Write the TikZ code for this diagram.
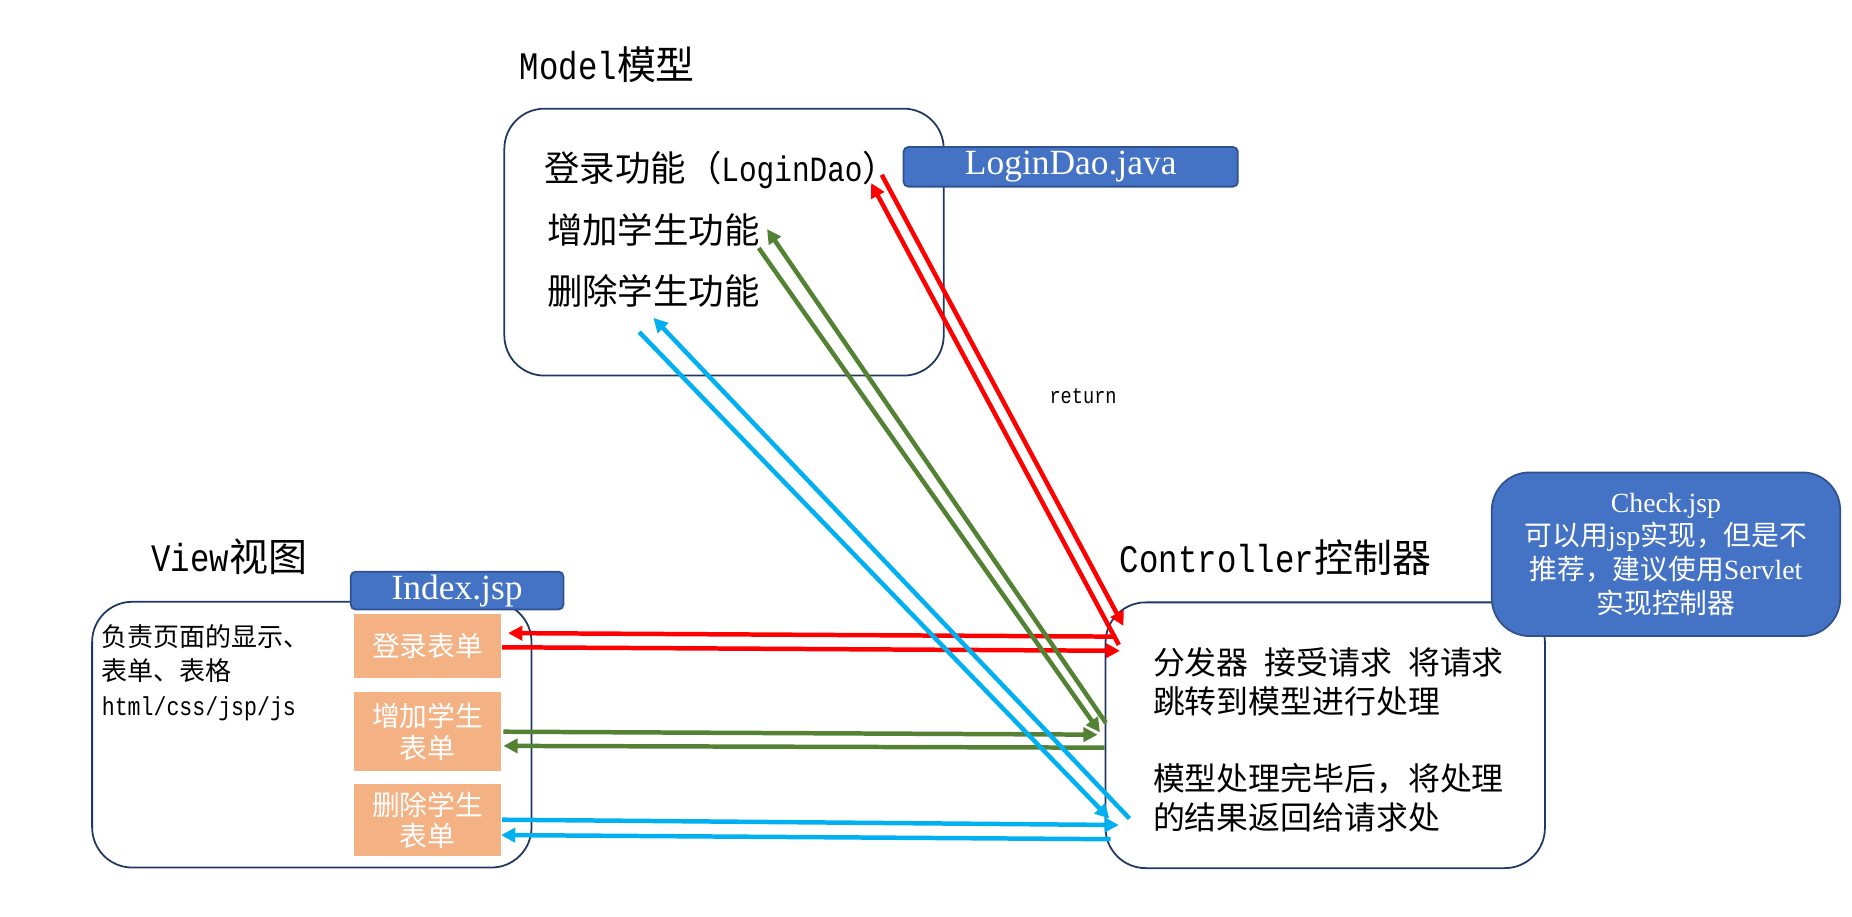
\documentclass[tikz,border=0pt]{standalone}
\usepackage{fontspec}
\setmainfont{Liberation Serif}
\newfontfamily\cjk{Noto Sans CJK SC}
\newfontfamily\mono{Liberation Mono}[FakeStretch=0.83]
\usepackage{tikz}
\usetikzlibrary{arrows.meta}
\usetikzlibrary{calc}
\tikzset{>={Triangle[length=12pt,width=12pt]}}
\definecolor{boxline}{HTML}{1F3864}
\definecolor{tagfill}{HTML}{4472C4}
\definecolor{tagline}{HTML}{2F528F}
\definecolor{formfill}{HTML}{F4B183}
\definecolor{addgreen}{HTML}{548235}
\definecolor{delblue}{HTML}{00B0F0}
\tikzstyle{panel} = [draw=boxline, line width=1.5pt, rounded corners=34pt, inner sep=0pt]
\tikzstyle{tag} = [draw=tagline, fill=tagfill, line width=1.5pt, rounded corners=4pt,
    text=white, inner sep=0pt]
\tikzstyle{form} = [fill=formfill, text=white, align=center, inner sep=0pt,
    minimum width=124pt, font=\cjk\fontsize{23.5}{27}\selectfont]
\tikzstyle{flow} = [->, line width=3.8pt]

\begin{document}
\begin{tikzpicture}[x=1pt,y=-1pt]
\useasboundingbox (0,0) rectangle (1568,776);
    %boxes
    \node[panel, minimum width=372pt, minimum height=226pt] (model) at (613,205) {};
    \node[panel, minimum width=372pt, minimum height=225pt] (view) at (264,622) {};
    \node[panel, minimum width=372pt, minimum height=225pt] (ctrl) at (1122,622.5) {};
    %tags
    \node[tag, minimum width=283pt, minimum height=33.5pt, font=\fontsize{30}{36}\selectfont]
        (daoTag) at (906.5,141.25) {LoginDao.java};
    \node[tag, minimum width=180pt, minimum height=32pt, font=\fontsize{30}{36}\selectfont]
        (indexTag) at (387,500) {Index.jsp};
    \node[tag, rounded corners=32pt, minimum width=295pt, minimum height=138.5pt, align=center,
        font=\cjk\fontsize{23.5}{28.6}\selectfont] (checkNote) at (1410.5,469.25)
        {{\rmfamily Check.jsp}\\可以用{\rmfamily jsp}实现，但是不\\推荐，建议使用{\rmfamily Servlet}\\实现控制器};
    %forms
    \node[form, minimum height=54pt] (loginform) at (362,547) {登录表单};
    \node[form, minimum height=67pt] (addform) at (362,619.5) {增加学生\\表单};
    \node[form, minimum height=61pt] (delform) at (362,694.5) {删除学生\\表单};
    %titles
    \node[anchor=west, inner sep=0pt, font=\cjk\fontsize{33}{40}\selectfont] (modelTitle) at (440,55) {{\mono Model}模型};
    \node[anchor=west, inner sep=0pt, font=\cjk\fontsize{33}{40}\selectfont] (viewTitle) at (128,471.5) {{\mono View}视图};
    \node[anchor=west, inner sep=0pt, font=\cjk\fontsize{33}{40}\selectfont] (ctrlTitle) at (948,472) {{\mono Controller}控制器};
    %labels
    \node[anchor=west, inner sep=0pt, font=\cjk\fontsize{30}{36}\selectfont] (fLogin) at (460.6,144) {登录功能（{\mono LoginDao}）};
    \node[anchor=west, inner sep=0pt, font=\cjk\fontsize{30}{36}\selectfont] (fAdd) at (463,195) {增加学生功能};
    \node[anchor=west, inner sep=0pt, font=\cjk\fontsize{30}{36}\selectfont] (fDel) at (463,246) {删除学生功能};
    \node[anchor=west, inner sep=0pt, align=left, font=\cjk\fontsize{22}{29.25}\selectfont] (viewNote) at (86,569.5)
        {负责页面的显示、\\表单、表格\\{\mono html/css/jsp/js}};
    \node[anchor=west, inner sep=0pt, align=left, font=\cjk\fontsize{27}{33}\selectfont] (ctrlNote) at (976,626.5)
        {分发器\hspace{0.5em}接受请求\hspace{0.5em}将请求\\跳转到模型进行处理\\[32pt]模型处理完毕后，将处理\\的结果返回给请求处};
    \node[inner sep=0pt, font=\mono\fontsize{19}{23}\selectfont] (retLabel) at (917,335) {return};
    %login arrows
    \draw[flow, red] ($(loginform.east)+(1,1)$) -- ($(ctrl.west)+(13,-71.5)$);
    \draw[flow, red] ($(ctrl.west)+(10,-83.5)$) -- ($(loginform.east)+(6,-11)$);
    \draw[flow, red] ($(fLogin.east)+(-14,4)$) -- ($(ctrl.west)+(16,-92.5)$);
    \draw[flow, red] ($(ctrl.west)+(12,-76.5)$) -- ($(fLogin.east)+(-23,11)$);
    %add arrows
    \draw[flow, addgreen] ($(addform.east)+(2,0)$) -- ($(ctrl.west)+(-6,-0.5)$);
    \draw[flow, addgreen] ($(ctrl.west)+(0,10.5)$) -- ($(addform.east)+(2,12)$);
    \draw[flow, addgreen] ($(fAdd.east)+(-1,15)$) -- ($(ctrl.west)+(-4,-2.5)$);
    \draw[flow, addgreen] ($(ctrl.west)+(1,-10.5)$) -- ($(fAdd.east)+(6,-1)$);
    %delete arrows
    \draw[flow, delblue] ($(delform.east)+(1,-0.5)$) -- ($(ctrl.west)+(12,76)$);
    \draw[flow, delblue] ($(ctrl.west)+(5,88)$) -- ($(delform.east)+(0,12.5)$);
    \draw[flow, delblue] ($(fDel.south)+(-12,21)$) -- ($(ctrl.west)+(4,70.5)$);
    \draw[flow, delblue] ($(ctrl.west)+(21,70.5)$) -- ($(fDel.south)+(0,9)$);
\end{tikzpicture}
\end{document}
